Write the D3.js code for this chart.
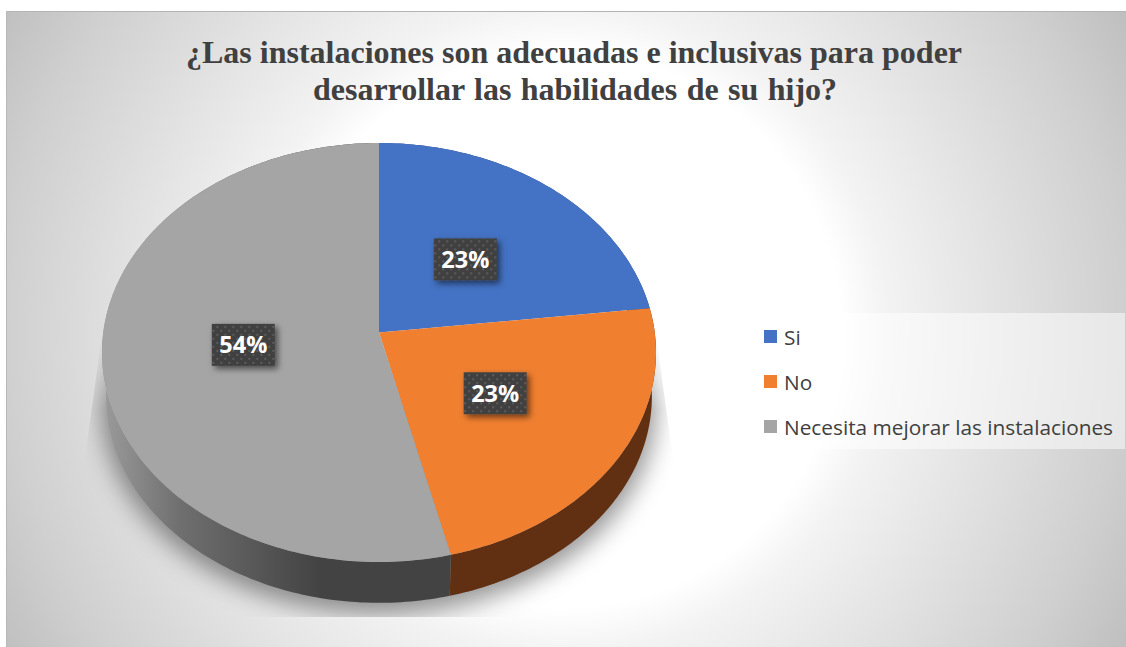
<!DOCTYPE html>
<html><head><meta charset="utf-8">
<script src="https://cdn.jsdelivr.net/npm/d3@7"></script>
<style>html,body{margin:0;padding:0;background:#fff;overflow:hidden}svg{display:block}</style>
</head><body><div id="chart"></div>
<script>
const titleLines = ["¿Las instalaciones son adecuadas e inclusivas para poder", "desarrollar las habilidades de su hijo?"];
const categories = ["Si", "No", "Necesita mejorar las instalaciones"];
const values = [23.1, 23.1, 53.8];
const topColors = ["#4472c4", "#f07f30", "#a5a5a5"];
const sideColors = ["#2a4678", "#613012", "url(#sideGrey)"];

const W = 1126, H = 647;
const cx = 379, cy = 352.5, rx = 277, ry = 209.5, depth = 44, tilt = -0.095;
const svg = d3.select("#chart").append("svg").attr("width", W).attr("height", H);
const defs = svg.append("defs");

const bg = defs.append("radialGradient").attr("id", "bg").attr("gradientUnits", "userSpaceOnUse")
  .attr("cx", 563).attr("cy", 330).attr("r", 646);
[[0, "#ffffff"], [0.43, "#ffffff"], [0.5, "#f3f3f3"], [0.87, "#cfcfcf"], [1, "#bfbfbf"]].forEach(s =>
  bg.append("stop").attr("offset", s[0]).attr("stop-color", s[1]));

const sg = defs.append("linearGradient").attr("id", "sideGrey").attr("gradientUnits", "userSpaceOnUse")
  .attr("x1", 105).attr("x2", 320).attr("y1", 0).attr("y2", 0);
[[0, "#9a9a9a"], [0.35, "#6f6f6f"], [1, "#434343"]].forEach(s =>
  sg.append("stop").attr("offset", s[0]).attr("stop-color", s[1]));

const lg = defs.append("linearGradient").attr("id", "shadowFade").attr("x1", 0).attr("x2", 0).attr("y1", 0).attr("y2", 1);
[[0, 0], [0.3, 1], [1, 1]].forEach(s =>
  lg.append("stop").attr("offset", s[0]).attr("stop-color", "#fff").attr("stop-opacity", s[1]));
const mask = defs.append("mask").attr("id", "shadowMask").attr("maskUnits", "userSpaceOnUse")
  .attr("x", 0).attr("y", 0).attr("width", W).attr("height", H);
mask.append("path").attr("d", "M104,320 L654,320 L676,480 L676,617 L82,617 L82,480 Z").attr("fill", "url(#shadowFade)");

defs.append("filter").attr("id", "blur").attr("x", "-20%").attr("y", "-20%").attr("width", "140%").attr("height", "140%")
  .append("feGaussianBlur").attr("stdDeviation", 12);
const ds = defs.append("filter").attr("id", "boxShadow").attr("x", "-30%").attr("y", "-30%").attr("width", "170%").attr("height", "170%");
ds.append("feDropShadow").attr("dx", 3).attr("dy", 3).attr("stdDeviation", 3).attr("flood-color", "#000").attr("flood-opacity", 0.55);

const pat = defs.append("pattern").attr("id", "dots").attr("patternUnits", "userSpaceOnUse").attr("width", 8).attr("height", 8);
pat.append("rect").attr("width", 8).attr("height", 8).attr("fill", "#404040");
pat.append("rect").attr("x", 1).attr("y", 1).attr("width", 2).attr("height", 2).attr("fill", "#5c5c5c");
pat.append("rect").attr("x", 5).attr("y", 5).attr("width", 2).attr("height", 2).attr("fill", "#5c5c5c");

// chart area
svg.append("rect").attr("x", 6).attr("y", 11).attr("width", W - 6).attr("height", H - 11).attr("fill", "url(#bg)");
svg.append("line").attr("x1", 6).attr("x2", W).attr("y1", 11.5).attr("y2", 11.5).attr("stroke", "#b4b4b4");
svg.append("line").attr("x1", 6.5).attr("x2", 6.5).attr("y1", 11).attr("y2", H).attr("stroke", "#b8b8b8");

// perspective projection of the pie plane: angle on the true circle -> screen point
function project(theta, shrink = 1, dy = 0) {
  const x = Math.sin(theta), y = -Math.cos(theta);
  const d = 1 + tilt * y;
  return [cx + rx * shrink * x * Math.sqrt(1 - tilt * tilt) / d, cy + dy + ry * shrink * (y + tilt) / d];
}
const apex = [cx, cy + ry * tilt];

const pie = d3.pie().sort(null).value(d => d)(values);
const line = d3.line();
function rim(a, dy = 0, shrink = 1) {
  const n = Math.max(2, Math.ceil((a.endAngle - a.startAngle) * 60));
  return d3.range(n + 1).map(i => project(a.startAngle + (a.endAngle - a.startAngle) * i / n, shrink, dy));
}

// shadow
const fullCircle = { startAngle: 0, endAngle: 2 * Math.PI };
svg.append("g").attr("mask", "url(#shadowMask)").append("path")
  .attr("d", line(rim(fullCircle, depth + 8, 1.0)) + "Z")
  .attr("fill", "#000").attr("fill-opacity", 0.42).attr("filter", "url(#blur)");

// side walls
svg.append("g").selectAll("path").data(pie).join("path")
  .attr("d", a => line(rim(a).concat(rim(a, depth, 0.985).reverse())) + "Z")
  .attr("fill", (a, i) => sideColors[i]);

// top face
svg.append("g").selectAll("path").data(pie).join("path")
  .attr("d", a => line([apex].concat(rim(a))) + "Z")
  .attr("fill", (a, i) => topColors[i]);

// data labels
const fmt = d3.format(".0%");
const total = d3.sum(values);
const labelFrac = [0.505, 0.485, 0.49];
const bw = 63, bh = 42;
const lab = svg.append("g").selectAll("g").data(pie).join("g")
  .attr("transform", (a, i) => {
    const p = project((a.startAngle + a.endAngle) / 2);
    const f = labelFrac[i];
    return `translate(${apex[0] + (p[0] - apex[0]) * f},${apex[1] + (p[1] - apex[1]) * f})`;
  });
lab.append("rect").attr("x", -bw / 2).attr("y", -bh / 2).attr("width", bw).attr("height", bh)
  .attr("fill", "url(#dots)").attr("filter", "url(#boxShadow)");
lab.append("text").attr("text-anchor", "middle").attr("y", 8.5)
  .attr("font-family", "'Open Sans'").attr("font-weight", 700).attr("font-size", 23.5).attr("fill", "#fff")
  .text(a => fmt(a.data / total));

// title
svg.append("g").selectAll("text").data(titleLines).join("text")
  .attr("x", (d, i) => 574 + i).attr("y", (d, i) => 63 + i * 37)
  .attr("text-anchor", "middle").attr("font-family", "'Liberation Serif'").attr("font-weight", 700)
  .attr("font-size", 32).attr("word-spacing", (d, i) => i * 1.4).attr("fill", "#404040").text(d => d);

// legend
const lgX = 751, lgY = 313;
svg.append("rect").attr("x", lgX).attr("y", lgY).attr("width", W - lgX - 1).attr("height", 136)
  .attr("fill", "#fff").attr("fill-opacity", 0.5);
const y = d3.scalePoint().domain(categories).range([337, 427]);
const li = svg.append("g").selectAll("g").data(categories).join("g");
li.append("rect").attr("x", 764).attr("y", d => y(d) - 7).attr("width", 13).attr("height", 13)
  .attr("fill", (d, i) => topColors[i]);
li.append("text").attr("x", 784).attr("y", d => y(d) + 7.5)
  .attr("font-family", "'Open Sans'").attr("font-size", 20.8).attr("fill", "#404040").text(d => d);
</script></body></html>
